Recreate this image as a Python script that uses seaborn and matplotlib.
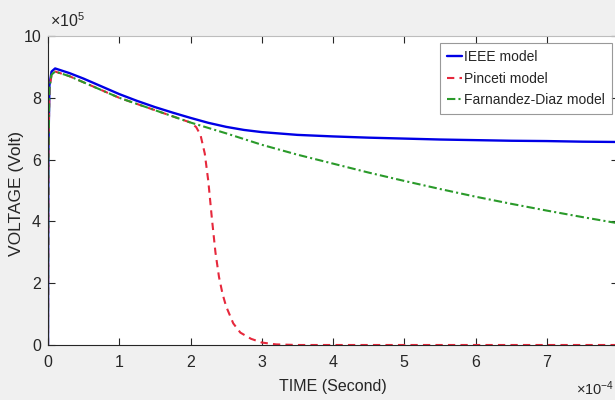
import numpy as np
import pandas as pd
import matplotlib
matplotlib.use("Agg")
import matplotlib.pyplot as plt
import seaborn as sns

# time in units of 1e-4 s, voltage in units of 1e5 V
ieee_t = [0, 0.005, 0.02, 0.05, 0.1, 0.3, 0.5, 0.75, 1.0, 1.25, 1.5, 1.75, 2.0, 2.25, 2.5, 2.75, 3.0,
          3.5, 4.0, 4.5, 5.0, 5.5, 6.0, 6.5, 7.0, 7.5, 8.0]
ieee_v = [0, 6.2, 8.4, 8.85, 8.95, 8.8, 8.62, 8.37, 8.12, 7.9, 7.7, 7.52, 7.35, 7.19, 7.06, 6.96, 6.89,
          6.80, 6.75, 6.71, 6.68, 6.65, 6.63, 6.61, 6.60, 6.58, 6.57]

pinceti_t = [0, 0.005, 0.02, 0.05, 0.1, 0.3, 0.5, 0.75, 1.0, 1.25, 1.5, 1.75, 2.0, 2.08, 2.14, 2.2,
             2.25, 2.3, 2.35, 2.4, 2.45, 2.5, 2.6, 2.7, 2.85, 3.0, 3.2, 3.5, 8.0]
pinceti_v = [0, 6.0, 8.3, 8.75, 8.85, 8.7, 8.5, 8.25, 8.0, 7.8, 7.6, 7.4, 7.2, 7.05, 6.8, 6.2,
             5.3, 4.1, 3.0, 2.2, 1.65, 1.25, 0.7, 0.4, 0.2, 0.08, 0.02, 0.0, 0.0]

fd_t = [0, 0.005, 0.02, 0.05, 0.1, 0.3, 0.5, 0.75, 1.0, 1.25, 1.5, 1.75, 2.0, 2.5, 3.0, 3.5, 4.0,
        4.5, 5.0, 5.5, 6.0, 6.5, 7.0, 7.5, 8.0]
fd_v = [0, 6.0, 8.3, 8.75, 8.85, 8.7, 8.5, 8.25, 8.0, 7.8, 7.6, 7.4, 7.2, 6.85, 6.48, 6.16, 5.87,
        5.58, 5.31, 5.05, 4.80, 4.57, 4.35, 4.14, 3.94]

x_ticks = [0, 1, 2, 3, 4, 5, 6, 7]
y_ticks = [0, 2, 4, 6, 8, 10]

sns.set_theme(style="white")
plt.rcParams['font.family'] = ['Liberation Sans', 'DejaVu Sans']
plt.rcParams['mathtext.fontset'] = 'custom'
plt.rcParams['mathtext.rm'] = 'Liberation Sans'
plt.rcParams['mathtext.it'] = 'Liberation Sans'
plt.rcParams['mathtext.default'] = 'regular'

W, H = 615, 400
TXT = "#262626"
fig = plt.figure(figsize=(W / 100, H / 100), dpi=100, facecolor="#f0f0f0")
ax = fig.add_axes([48 / W, (H - 345) / H, (618 - 48) / W, (345 - 36) / H])
ax.set_facecolor("white")

sns.lineplot(x=ieee_t, y=ieee_v, ax=ax, color="#0000e6", lw=1.7, sort=False,
             estimator=None, label="IEEE model")
sns.lineplot(x=pinceti_t, y=pinceti_v, ax=ax, color="#e6283c", lw=1.5, sort=False,
             estimator=None, label="Pinceti model", linestyle=(0, (3.5, 2.5)))
sns.lineplot(x=fd_t, y=fd_v, ax=ax, color="#2a9a2a", lw=1.5, sort=False,
             estimator=None, label="Farnandez-Diaz model", linestyle=(0, (4, 1.5, 1, 1.5)))

ax.set_xlim(0, 8)
ax.set_ylim(0, 10)
ax.set_xticks(x_ticks)
ax.set_yticks(y_ticks)
ax.tick_params(direction="in", length=5, width=0.8, colors=TXT, labelsize=11.5,
               top=True, right=True, bottom=True, left=True)
ax.tick_params(axis="x", pad=7)
ax.tick_params(axis="y", pad=5)
for s in ax.spines.values():
    s.set_color(TXT)
    s.set_linewidth(0.8)
ax.spines["top"].set_color("#bdbdbd")

ax.set_xlabel("TIME (Second)", fontsize=11.5, color=TXT)
ax.set_ylabel("VOLTAGE (Volt)", fontsize=12.5, color=TXT)
ax.xaxis.set_label_coords((333 - 48) / (618 - 48), -(386 - 345) / (345 - 36), transform=ax.transAxes)
ax.xaxis.label.set_va("center")
ax.yaxis.set_label_coords(-(48 - 17) / (618 - 48), (345 - 194) / (345 - 36), transform=ax.transAxes)
ax.yaxis.label.set_va("center")

fig.text(50 / W, 1 - 21 / H, r"$\times10^{5}$", fontsize=11.5, color=TXT,
         ha="left", va="center")
fig.text(576 / W, 1 - 389 / H, r"$\times10^{-4}$", fontsize=10.5, color=TXT,
         ha="left", va="center")

leg = ax.legend(loc="upper right", bbox_to_anchor=(612 / W, 1 - 43 / H),
                bbox_transform=fig.transFigure, fontsize=10, frameon=True,
                fancybox=False, handlelength=1.1, handletextpad=0.15,
                borderpad=0.5, labelspacing=0.55, borderaxespad=0)
leg.get_frame().set_edgecolor("#808080")
leg.get_frame().set_linewidth(0.8)

fig.savefig("out.png", dpi=100, facecolor=fig.get_facecolor())
